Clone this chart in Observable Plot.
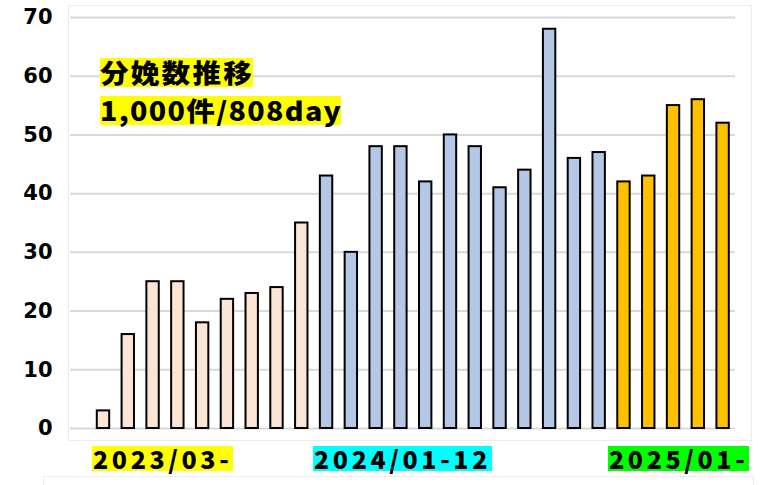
<!DOCTYPE html>
<html><head><meta charset="utf-8">
<script src="https://cdn.jsdelivr.net/npm/d3@7"></script>
<script src="https://cdn.jsdelivr.net/npm/@observablehq/plot@0.6"></script>
<style>
body{margin:0;background:#fff;}
#wrap{position:relative;width:766px;height:485px;overflow:hidden;font-family:"Noto Sans CJK JP",sans-serif;}
.lab{position:absolute;font-weight:900;color:#000;line-height:1;white-space:nowrap;}
.frame{position:absolute;border:1px solid #ececec;}
.hl{position:absolute;background:#FFFF00;}
svg{position:absolute;left:0;top:0;}
</style></head><body><div id="wrap"></div>
<script>
// data
const periods = ["2023/03-","2024/01-12","2025/01-"];
const periodColors = ["#FBE5D6","#B4C7E7","#FFC000"];
const periodLabelBg = ["#FFFF00","#00FFFF","#00FF00"];
const values2023 = [3,16,25,25,18,22,23,24,35];
const values2024 = [43,30,48,48,42,50,48,41,44,68,46,47];
const values2025 = [42,43,55,56,52];
const yTicks = [0,10,20,30,40,50,60,70];
const titleLines = ["分娩数推移","1,000件/808day"];

const series = [values2023, values2024, values2025];
const data = [];
series.forEach((vals, g) => vals.forEach(v => data.push({i: data.length, v, g})));

const wrap = document.getElementById("wrap");

const f1 = document.createElement("div");
f1.className = "frame";
Object.assign(f1.style,{left:"68px",top:"5px",width:"682px",height:"434px"});
wrap.appendChild(f1);
const f2 = document.createElement("div");
f2.className = "frame";
Object.assign(f2.style,{left:"43px",top:"476px",width:"709px",height:"40px"});
wrap.appendChild(f2);

const chart = Plot.plot({
  width: 766,
  height: 485,
  marginLeft: 70,
  marginRight: 31,
  marginTop: 17,
  marginBottom: 57,
  style: {background: "transparent", fontFamily: '"Noto Sans CJK JP",sans-serif'},
  x: {type: "band", domain: data.map(d => d.i), range: [90.6, 735], paddingInner: 0.5, paddingOuter: 0.25, round: false, axis: null},
  y: {domain: [0, 70]},
  color: {type: "identity"},
  marks: [
    Plot.gridY(yTicks, {stroke: "#d9d9d9", strokeOpacity: 1, strokeWidth: 2}),
    Plot.axisY(yTicks, {tickSize: 0, tickPadding: 18, fontSize: 21, fontWeight: 900, fontFamily: '"DejaVu Sans",sans-serif', label: null, fill: "#000"}),
    Plot.barY(data, {x: "i", y: "v", fill: d => periodColors[d.g], stroke: "#000", strokeWidth: 2})
  ]
});
wrap.appendChild(chart);

// title: two lines, each highlighted behind
const hl1 = document.createElement("div"); hl1.className = "hl"; wrap.appendChild(hl1);
const hl2 = document.createElement("div"); hl2.className = "hl"; wrap.appendChild(hl2);
const title = document.createElement("div");
title.className = "lab";
Object.assign(title.style,{left:"100px",top:"53px",fontSize:"26px",lineHeight:"38px",letterSpacing:"2px",transform:"scaleX(1.1)",transformOrigin:"0 0"});
const s1 = document.createElement("span"); s1.textContent = titleLines[0];
const s2 = document.createElement("span"); s2.textContent = titleLines[1];
s2.style.letterSpacing = "1.2px";
title.appendChild(s1);
title.appendChild(document.createElement("br"));
title.appendChild(s2);
wrap.appendChild(title);
const w1 = s1.getBoundingClientRect().width, w2 = s2.getBoundingClientRect().width;
Object.assign(hl1.style,{left:"100px",top:"58px",width:(w1-1)+"px",height:"29px"});
Object.assign(hl2.style,{left:"100px",top:"96px",width:(w2-1)+"px",height:"29px"});

// period labels
const lefts = [92, 313, 608];
periods.forEach((p, k) => {
  const d = document.createElement("div");
  d.className = "lab";
  d.textContent = p;
  Object.assign(d.style,{left: lefts[k]+"px", top:"446px", fontSize:"25px", background: periodLabelBg[k], padding:"0 1px", letterSpacing:"3.6px"});
  wrap.appendChild(d);
});
</script></body></html>
